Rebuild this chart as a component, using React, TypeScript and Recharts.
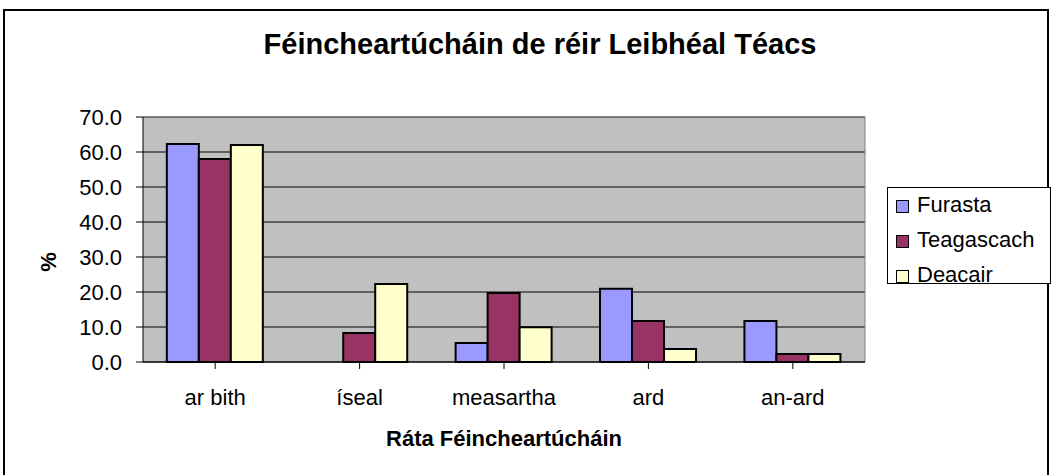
import { BarChart, Bar, XAxis, YAxis, CartesianGrid, Legend } from "recharts"

const categories = ["ar bith", "íseal", "measartha", "ard", "an-ard"]
const seriesNames = ["Furasta", "Teagascach", "Deacair"]
const furasta = [62.3, 0, 5.4, 20.9, 11.7]
const teagascach = [58.0, 8.3, 19.7, 11.7, 2.3]
const deacair = [62.0, 22.3, 9.9, 3.7, 2.3]
const yTicks = [0, 10, 20, 30, 40, 50, 60, 70]

const data = categories.map((name, i) => ({
  name,
  Furasta: furasta[i],
  Teagascach: teagascach[i],
  Deacair: deacair[i],
}))

const font = "'Liberation Sans', Arial, sans-serif"

const renderLegend = (props: any) => {
  const items = [...(props.payload || [])].sort(
    (a: any, b: any) => seriesNames.indexOf(a.value) - seriesNames.indexOf(b.value)
  )
  return (
    <div
      style={{
        border: "1px solid #000",
        background: "#fff",
        width: 164,
        height: 97,
        boxSizing: "border-box",
        padding: "1px 0 0 8px",
        fontFamily: font,
        fontSize: 22,
        lineHeight: "22px",
        color: "#000",
      }}
    >
      {items.map((p: any) => (
        <div key={p.value} style={{ display: "flex", alignItems: "center", height: 35 }}>
          <span
            style={{
              width: 11,
              height: 11,
              border: "1.5px solid #000",
              background: p.color,
              marginRight: 8,
              display: "inline-block",
            }}
          />
          <span style={{ position: "relative", top: -2 }}>{p.value}</span>
        </div>
      ))}
    </div>
  )
}

const YLabel = (props: any) => {
  const vb = props.viewBox || { x: 0 }
  return (
    <text
      x={vb.x + 48}
      y={262}
      transform={`rotate(-90, ${vb.x + 48}, 262)`}
      textAnchor="middle"
      dominantBaseline="central"
      fontFamily={font}
      fontWeight="bold"
      fontSize={22}
      fill="#000"
    >
      %
    </text>
  )
}

export default function App() {
  return (
    <div
      style={{
        position: "absolute",
        left: 0,
        top: 0,
        width: 1052,
        height: 475,
        overflow: "hidden",
        background: "#fff",
      }}
    >
      <div
        style={{
          position: "absolute",
          left: 3,
          top: 9,
          width: 1046,
          height: 500,
          border: "2px solid #000",
          boxSizing: "border-box",
        }}
      />
      <div
        style={{
          position: "absolute",
          left: 240,
          top: 30,
          width: 600,
          textAlign: "center",
          fontFamily: font,
          fontWeight: "bold",
          fontSize: 29,
          lineHeight: "29px",
          color: "#000",
        }}
      >
        Féincheartúcháin de réir Leibhéal Téacs
      </div>
      <div style={{ position: "absolute", left: 0, top: 0 }}>
        <BarChart
          width={1052}
          height={475}
          data={data}
          margin={{ top: 117, right: 187, bottom: 0, left: 0 }}
          barGap={0}
          barCategoryGap="16.5%"
        >
          <CartesianGrid fill="#C0C0C0" stroke="#000" vertical={false} />
          <CartesianGrid
            stroke="#808080"
            horizontalCoordinatesGenerator={({ offset }: any) => [offset.top]}
            verticalCoordinatesGenerator={({ offset }: any) => [offset.left + offset.width]}
          />
          <XAxis
            dataKey="name"
            height={113}
            tickSize={7}
            tickMargin={20}
            tickLine={{ stroke: "#000" }}
            axisLine={{ stroke: "#000" }}
            tick={{ fill: "#000", fontSize: 22, fontFamily: font }}
            label={{
              value: "Ráta Féincheartúcháin",
              position: "insideBottom",
              offset: 29,
              fill: "#000",
              fontSize: 22,
              fontWeight: "bold",
              fontFamily: font,
            }}
          />
          <YAxis
            width={143}
            domain={[0, 70]}
            ticks={yTicks}
            interval={0}
            tickFormatter={(v: number) => v.toFixed(1)}
            tickSize={7}
            tickMargin={14}
            tickLine={{ stroke: "#000" }}
            axisLine={{ stroke: "#000" }}
            tick={{ fill: "#000", fontSize: 22, fontFamily: font }}
            label={<YLabel />}
          />
          <Legend
            layout="vertical"
            align="center"
            verticalAlign="middle"
            content={renderLegend}
            wrapperStyle={{ left: 887, top: 187, width: 164, height: 97 }}
          />
          <Bar dataKey="Furasta" fill="#9999FF" stroke="#000" strokeWidth={2} isAnimationActive={false} />
          <Bar dataKey="Teagascach" fill="#993366" stroke="#000" strokeWidth={2} isAnimationActive={false} />
          <Bar dataKey="Deacair" fill="#FFFFCC" stroke="#000" strokeWidth={2} isAnimationActive={false} />
        </BarChart>
      </div>
    </div>
  )
}
